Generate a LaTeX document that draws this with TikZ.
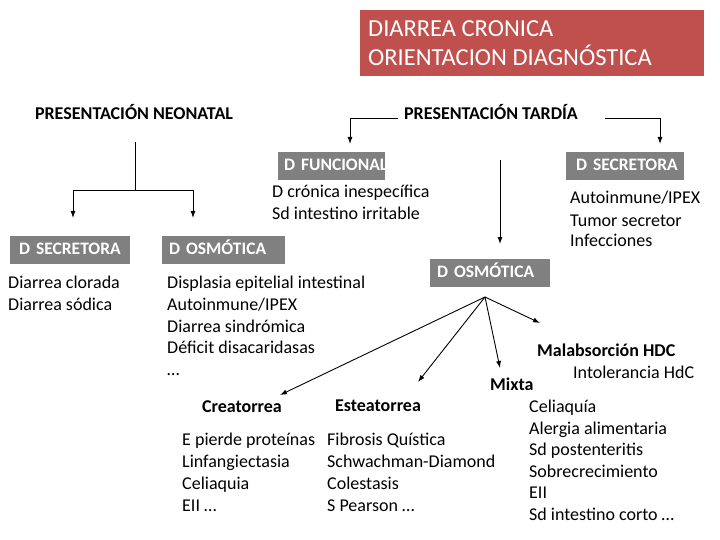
\documentclass[tikz,border=0pt]{standalone}
\usepackage{fontspec}
\setmainfont{Carlito}
\usetikzlibrary{arrows.meta}
\begin{document}
\begin{tikzpicture}[x=1pt,y=-1pt,
  txt/.style={anchor=west,inner sep=0pt,text height=12pt,text depth=4pt,font=\fontsize{18}{20}\selectfont},
  hd/.style={inner sep=0pt,text height=12pt,text depth=4pt,font=\fontsize{18}{20}\selectfont\bfseries},
  gbox/.style={fill=black!50,text=white,anchor=north west,inner sep=0pt,minimum height=28pt,align=left,font=\fontsize{17.5}{20}\selectfont\bfseries,text height=12pt,text depth=3pt},
  arr/.style={-{Latex[length=7pt,width=5pt]},line width=0.9pt},
  ln/.style={line width=0.9pt}]
\useasboundingbox (0,0) rectangle (720,540);
\definecolor{tred}{HTML}{C0504D}
\node[fill=tred,anchor=north west,minimum width=344pt,minimum height=66pt,inner sep=0pt] (title) at (360,10) {};
\node[anchor=west,text=white,align=left,inner sep=0pt,font=\fontsize{24.5}{29}\selectfont] (tt) at (368,43) {DIARREA CRONICA\\ORIENTACION DIAGNÓSTICA};
\node[hd] (neo) at (134,116) {PRESENTACIÓN NEONATAL};
\node[hd] (tar) at (491,116) {PRESENTACIÓN TARDÍA};
% neonatal
\coordinate (n0) at (135,142); \coordinate (n1) at (135,190);
\coordinate (nl) at (73,190); \coordinate (nr) at (193,190);
\coordinate (al) at (73,218); \coordinate (ar) at (193,218);
\draw[ln] (n0) -- (n1); \draw[ln] (nl) -- (nr);
\draw[arr] (nl) -- (al); \draw[arr] (nr) -- (ar);
% tardia
\coordinate (t1) at (398,118); \coordinate (t2) at (350,118); \coordinate (t3) at (350,144);
\draw[arr] (t1) -- (t2) -- (t3);
\coordinate (t4) at (605,118); \coordinate (t5) at (660,118); \coordinate (t6) at (660,144);
\draw[arr] (t4) -- (t5) -- (t6);
\coordinate (t7) at (500,160); \coordinate (t8) at (500,244);
\draw[arr] (t7) -- (t8);
% boxes
\node[gbox,minimum width=107pt,text width=105pt] (fun) at (278,152) {\mbox{\hspace*{5pt}D FUNCIONAL}};
\node[gbox,minimum width=118pt,text width=116pt] (sec2) at (566,152) {\mbox{\hspace*{9pt}D SECRETORA}};
\node[gbox,minimum width=120pt,text width=118pt] (sec1) at (10,236) {\mbox{\hspace*{8pt}D SECRETORA}};
\node[gbox,minimum width=123pt,text width=121pt] (osm1) at (162,236) {\mbox{\hspace*{6pt}D OSMÓTICA}};
\node[gbox,minimum width=120pt,text width=118pt] (osm2) at (430,259) {\mbox{\hspace*{6pt}D OSMÓTICA}};
% texts
\node[txt] (f1) at (272,193) {D crónica inespecífica};
\node[txt] (f2) at (272,215) {Sd intestino irritable};
\node[txt] (s1) at (570,200) {Autoinmune/IPEX};
\node[txt] (s2) at (570,222) {Tumor secretor};
\node[txt] (s3) at (570,243) {Infecciones};
\node[txt] (c1) at (8,284) {Diarrea clorada};
\node[txt] (c2) at (8,306) {Diarrea sódica};
\node[txt] (o1) at (167,284) {Displasia epitelial intestinal};
\node[txt] (o2) at (167,306) {Autoinmune/IPEX};
\node[txt] (o3) at (167,328) {Diarrea sindrómica};
\node[txt] (o4) at (167,349) {Déficit disacaridasas};
\node[txt] (o5) at (167,371) {\dots};
% osmotic tree
\coordinate (src) at (485,297);
\coordinate (e1) at (280,395); \coordinate (e2) at (418,382);
\coordinate (e3) at (500,368); \coordinate (e4) at (540,323);
\draw[arr] (src) -- (e1); \draw[arr] (src) -- (e2);
\draw[arr] (src) -- (e3); \draw[arr] (src) -- (e4);
\node[hd] (cre) at (242,408) {Creatorrea};
\node[hd] (est) at (378,407) {Esteatorrea};
\node[hd,anchor=west] (mix) at (490,386) {Mixta};
\node[hd,anchor=west] (mal) at (537,352) {Malabsorción HDC};
\node[txt] (int) at (573,374) {Intolerancia HdC};
\node[txt] (m1) at (529,408) {Celiaquía};
\node[txt] (m2) at (529,430) {Alergia alimentaria};
\node[txt] (m3) at (529,451) {Sd postenteritis};
\node[txt] (m4) at (529,473) {Sobrecrecimiento};
\node[txt] (m5) at (529,494) {EII};
\node[txt] (m6) at (529,516) {Sd intestino corto \dots};
\node[txt] (p1) at (182,441) {E pierde proteínas};
\node[txt] (p2) at (182,463) {Linfangiectasia};
\node[txt] (p3) at (182,485) {Celiaquia};
\node[txt] (p4) at (182,507) {EII \dots};
\node[txt] (q1) at (327,441) {Fibrosis Quística};
\node[txt] (q2) at (327,463) {Schwachman-Diamond};
\node[txt] (q3) at (327,485) {Colestasis};
\node[txt] (q4) at (327,507) {S Pearson \dots};
\end{tikzpicture}
\end{document}
